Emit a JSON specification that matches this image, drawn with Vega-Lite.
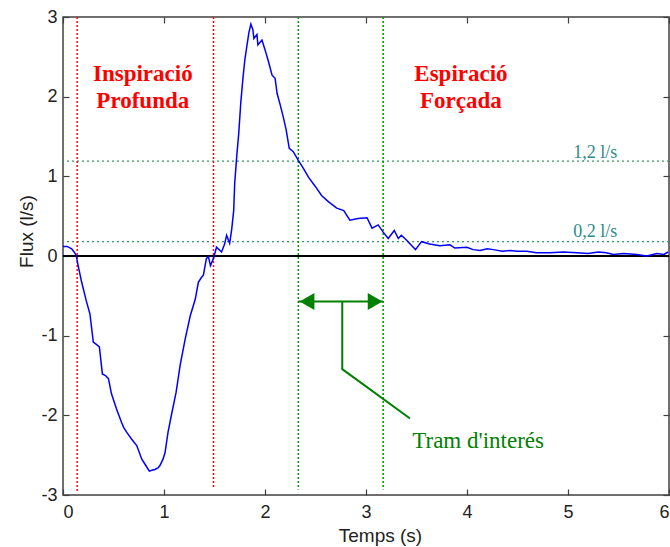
{
  "$schema": "https://vega.github.io/schema/vega-lite/v6.json",
  "width": 606,
  "height": 478,
  "autosize": {"type": "none"},
  "padding": {"left": 63, "top": 17, "right": 1, "bottom": 52},
  "background": "white",
  "config": {
    "view": {"stroke": "#404040", "strokeWidth": 1.5},
    "axis": {
      "grid": false,
      "domain": false,
      "tickColor": "#404040",
      "tickWidth": 1.2,
      "tickSize": -6,
      "labelFont": "Liberation Sans",
      "labelFontSize": 18,
      "labelColor": "#222222",
      "titleFont": "Liberation Sans",
      "titleFontSize": 19,
      "titleFontWeight": "normal",
      "titleColor": "#222222"
    }
  },
  "datasets": {
    "flow": [
      {"t": 0.00, "f": 0.12}, {"t": 0.04, "f": 0.12}, {"t": 0.086, "f": 0.09}, {"t": 0.11, "f": 0.05},
      {"t": 0.13, "f": 0.01}, {"t": 0.15, "f": -0.12}, {"t": 0.185, "f": -0.33}, {"t": 0.23, "f": -0.56},
      {"t": 0.267, "f": -0.73}, {"t": 0.30, "f": -1.08}, {"t": 0.33, "f": -1.11}, {"t": 0.36, "f": -1.14},
      {"t": 0.39, "f": -1.48}, {"t": 0.42, "f": -1.50}, {"t": 0.45, "f": -1.54}, {"t": 0.48, "f": -1.73},
      {"t": 0.53, "f": -1.92}, {"t": 0.58, "f": -2.09}, {"t": 0.60, "f": -2.15}, {"t": 0.63, "f": -2.21},
      {"t": 0.68, "f": -2.30}, {"t": 0.73, "f": -2.38}, {"t": 0.78, "f": -2.55}, {"t": 0.82, "f": -2.63},
      {"t": 0.855, "f": -2.70}, {"t": 0.88, "f": -2.69}, {"t": 0.91, "f": -2.68}, {"t": 0.94, "f": -2.66},
      {"t": 0.96, "f": -2.63}, {"t": 0.99, "f": -2.55}, {"t": 1.01, "f": -2.47}, {"t": 1.04, "f": -2.21},
      {"t": 1.076, "f": -1.98}, {"t": 1.12, "f": -1.71}, {"t": 1.16, "f": -1.37}, {"t": 1.21, "f": -1.04},
      {"t": 1.26, "f": -0.75}, {"t": 1.31, "f": -0.54}, {"t": 1.34, "f": -0.33}, {"t": 1.37, "f": -0.27},
      {"t": 1.39, "f": -0.24}, {"t": 1.42, "f": -0.03}, {"t": 1.44, "f": -0.01}, {"t": 1.46, "f": -0.12},
      {"t": 1.49, "f": -0.03}, {"t": 1.52, "f": 0.11}, {"t": 1.57, "f": 0.05}, {"t": 1.60, "f": 0.15},
      {"t": 1.62, "f": 0.26}, {"t": 1.65, "f": 0.16}, {"t": 1.67, "f": 0.33}, {"t": 1.69, "f": 0.57},
      {"t": 1.70, "f": 0.91}, {"t": 1.72, "f": 1.25}, {"t": 1.74, "f": 1.54}, {"t": 1.76, "f": 1.92},
      {"t": 1.78, "f": 2.21}, {"t": 1.80, "f": 2.46}, {"t": 1.82, "f": 2.63}, {"t": 1.84, "f": 2.80},
      {"t": 1.86, "f": 2.91}, {"t": 1.88, "f": 2.84}, {"t": 1.89, "f": 2.73}, {"t": 1.92, "f": 2.78},
      {"t": 1.93, "f": 2.65}, {"t": 1.97, "f": 2.71}, {"t": 2.00, "f": 2.59}, {"t": 2.03, "f": 2.46},
      {"t": 2.07, "f": 2.27}, {"t": 2.10, "f": 2.23}, {"t": 2.12, "f": 2.04}, {"t": 2.15, "f": 1.90},
      {"t": 2.18, "f": 1.75}, {"t": 2.21, "f": 1.58}, {"t": 2.24, "f": 1.35}, {"t": 2.28, "f": 1.31},
      {"t": 2.33, "f": 1.20}, {"t": 2.38, "f": 1.10}, {"t": 2.43, "f": 0.99}, {"t": 2.50, "f": 0.87},
      {"t": 2.56, "f": 0.76}, {"t": 2.63, "f": 0.68}, {"t": 2.71, "f": 0.60}, {"t": 2.78, "f": 0.57},
      {"t": 2.84, "f": 0.45}, {"t": 2.92, "f": 0.47}, {"t": 3.01, "f": 0.48}, {"t": 3.06, "f": 0.35},
      {"t": 3.12, "f": 0.39}, {"t": 3.17, "f": 0.30}, {"t": 3.22, "f": 0.22}, {"t": 3.28, "f": 0.32},
      {"t": 3.32, "f": 0.22}, {"t": 3.35, "f": 0.26}, {"t": 3.40, "f": 0.20}, {"t": 3.49, "f": 0.08},
      {"t": 3.55, "f": 0.18}, {"t": 3.63, "f": 0.15}, {"t": 3.73, "f": 0.13}, {"t": 3.83, "f": 0.14},
      {"t": 3.88, "f": 0.10}, {"t": 4.00, "f": 0.11}, {"t": 4.06, "f": 0.08}, {"t": 4.13, "f": 0.07},
      {"t": 4.20, "f": 0.09}, {"t": 4.26, "f": 0.08}, {"t": 4.35, "f": 0.06}, {"t": 4.43, "f": 0.07},
      {"t": 4.50, "f": 0.06}, {"t": 4.59, "f": 0.06}, {"t": 4.69, "f": 0.04}, {"t": 4.82, "f": 0.04},
      {"t": 4.95, "f": 0.05}, {"t": 5.09, "f": 0.04}, {"t": 5.20, "f": 0.03}, {"t": 5.30, "f": 0.05},
      {"t": 5.38, "f": 0.04}, {"t": 5.45, "f": 0.02}, {"t": 5.55, "f": 0.03}, {"t": 5.68, "f": 0.02},
      {"t": 5.78, "f": 0.00}, {"t": 5.88, "f": 0.03}, {"t": 5.95, "f": 0.02}, {"t": 5.99, "f": 0.05}
    ]
  },
  "layer": [
    {
      "layer": [
        {
          "data": {"values": [{"level": 1.19}, {"level": 0.18}]},
          "mark": {"type": "rule", "color": "#339966", "strokeWidth": 1.3, "strokeDash": [2, 3]},
          "encoding": {"y": {"field": "level", "type": "quantitative"}}
        },
        {
          "data": {"values": [{"level": 0}]},
          "mark": {"type": "rule", "color": "#000000", "strokeWidth": 2},
          "encoding": {"y": {"field": "level", "type": "quantitative"}}
        },
        {
          "data": {"values": [{"t": 0.14, "top": 3, "bottom": -2.95}, {"t": 1.49, "top": 3, "bottom": -2.92}]},
          "mark": {"type": "rule", "color": "#FF0000", "strokeWidth": 1.5, "strokeDash": [2, 2]},
          "encoding": {
            "x": {"field": "t", "type": "quantitative"},
            "y": {"field": "top", "type": "quantitative"},
            "y2": {"field": "bottom"}
          }
        },
        {
          "data": {"values": [{"t": 2.33, "top": 3, "bottom": -2.93}, {"t": 3.17, "top": 3, "bottom": -2.93}]},
          "mark": {"type": "rule", "color": "#009900", "strokeWidth": 1.5, "strokeDash": [2, 2]},
          "encoding": {
            "x": {"field": "t", "type": "quantitative"},
            "y": {"field": "top", "type": "quantitative"},
            "y2": {"field": "bottom"}
          }
        },
        {
          "data": {"name": "flow"},
          "mark": {"type": "line", "color": "#0000FF", "strokeWidth": 1.5, "interpolate": "linear"},
          "encoding": {
            "x": {"field": "t", "type": "quantitative", "scale": {"domain": [0, 6], "nice": false},
              "axis": {"orient": "bottom", "values": [0, 1, 2, 3, 4, 5, 6], "labelExpr": "'' + datum.value", "labelPadding": 14,
                "title": "Temps (s)", "titleX": 317, "titleY": 46, "titleBaseline": "alphabetic", "titleAlign": "center"}},
            "y": {"field": "f", "type": "quantitative", "scale": {"domain": [-3, 3], "nice": false},
              "axis": {"orient": "left", "values": [-3, -2, -1, 0, 1, 2, 3], "labelExpr": "'' + datum.value", "labelPadding": 12,
                "title": "Flux  (l/s)", "titleX": -31, "titleY": 214, "titleBaseline": "alphabetic", "titleAngle": -90, "titleAlign": "center"}}
          }
        },
        {
          "data": {"values": [{"a": 2.33, "b": 3.17, "y": -0.57}]},
          "mark": {"type": "rule", "color": "#008000", "strokeWidth": 2},
          "encoding": {
            "x": {"field": "a", "type": "quantitative"},
            "x2": {"field": "b"},
            "y": {"field": "y", "type": "quantitative"}
          }
        },
        {
          "data": {"values": [{"step": 1, "t": 2.765, "y": -0.57}, {"step": 2, "t": 2.765, "y": -1.42}, {"step": 3, "t": 3.436, "y": -2.04}]},
          "mark": {"type": "line", "color": "#008000", "strokeWidth": 2},
          "encoding": {
            "x": {"field": "t", "type": "quantitative"},
            "y": {"field": "y", "type": "quantitative"},
            "order": {"field": "step"}
          }
        },
        {
          "data": {"values": [{"t": 2.416, "y": -0.57}]},
          "mark": {"type": "point", "shape": "triangle-left", "size": 289, "filled": true, "color": "#008000", "opacity": 1},
          "encoding": {
            "x": {"field": "t", "type": "quantitative"},
            "y": {"field": "y", "type": "quantitative"}
          }
        },
        {
          "data": {"values": [{"t": 3.09, "y": -0.57}]},
          "mark": {"type": "point", "shape": "triangle-right", "size": 289, "filled": true, "color": "#008000", "opacity": 1},
          "encoding": {
            "x": {"field": "t", "type": "quantitative"},
            "y": {"field": "y", "type": "quantitative"}
          }
        },
        {
          "data": {"values": [
            {"t": 0.79, "y": 2.20, "label": "Inspiració"},
            {"t": 0.79, "y": 1.86, "label": "Profunda"},
            {"t": 3.94, "y": 2.20, "label": "Espiració"},
            {"t": 3.94, "y": 1.86, "label": "Forçada"}
          ]},
          "mark": {"type": "text", "font": "Liberation Serif", "fontSize": 23, "fontWeight": "bold", "color": "#FF0000", "align": "center", "baseline": "alphabetic"},
          "encoding": {
            "x": {"field": "t", "type": "quantitative"},
            "y": {"field": "y", "type": "quantitative"},
            "text": {"field": "label"}
          }
        },
        {
          "data": {"values": [
            {"t": 5.27, "y": 1.23, "label": "1,2 l/s"},
            {"t": 5.27, "y": 0.24, "label": "0,2 l/s"}
          ]},
          "mark": {"type": "text", "font": "Liberation Serif", "fontSize": 18, "color": "#2A8C8C", "align": "center", "baseline": "alphabetic"},
          "encoding": {
            "x": {"field": "t", "type": "quantitative"},
            "y": {"field": "y", "type": "quantitative"},
            "text": {"field": "label"}
          }
        },
        {
          "data": {"values": [{"t": 4.11, "y": -2.41, "label": "Tram d'interés"}]},
          "mark": {"type": "text", "font": "Liberation Serif", "fontSize": 23, "color": "#008000", "align": "center", "baseline": "alphabetic"},
          "encoding": {
            "x": {"field": "t", "type": "quantitative"},
            "y": {"field": "y", "type": "quantitative"},
            "text": {"field": "label"}
          }
        }
      ]
    },
    {
      "data": {"values": [{"t": 0, "y": 0}]},
      "mark": {"type": "point", "opacity": 0},
      "encoding": {
        "x": {"field": "t", "type": "quantitative", "scale": {"domain": [0, 6], "nice": false},
          "axis": {"orient": "top", "values": [0, 1, 2, 3, 4, 5, 6], "labels": false, "title": null}},
        "y": {"field": "y", "type": "quantitative", "scale": {"domain": [-3, 3], "nice": false},
          "axis": {"orient": "right", "values": [-3, -2, -1, 0, 1, 2, 3], "labels": false, "title": null}}
      }
    }
  ],
  "resolve": {"axis": {"x": "independent", "y": "independent"}}
}
